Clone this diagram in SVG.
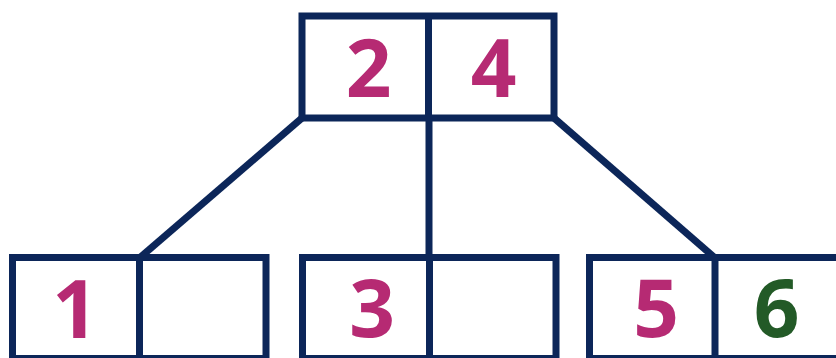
<svg xmlns="http://www.w3.org/2000/svg" width="836" height="358" viewBox="0 0 836 358">
<style>
.box{fill:#fff;stroke:#0c2659;stroke-width:7}
.ln{stroke:#0c2659;stroke-width:7;fill:none}
.t{font-family:"Open Sans","Liberation Sans",sans-serif;font-weight:700;font-size:80px;text-anchor:middle}
.m{fill:#b62a73}
.g{fill:#235a27}
</style>
<rect width="836" height="358" fill="#fff"/>
<g id="connectors">
<line class="ln" x1="302" y1="118" x2="139.5" y2="258"/>
<line class="ln" x1="429" y1="118" x2="429" y2="258"/>
<line class="ln" x1="554" y1="118" x2="715" y2="258"/>
</g>
<g id="root">
<rect class="box" x="302" y="16" width="252" height="102"/>
<line class="ln" x1="428.5" y1="16" x2="428.5" y2="118"/>
<text class="t m" x="368.5" y="97">2</text>
<text class="t m" x="493.5" y="97">4</text>
</g>
<g id="left">
<rect class="box" x="12.5" y="257.5" width="253.5" height="101"/>
<line class="ln" x1="139.5" y1="257.5" x2="139.5" y2="358.5"/>
<text class="t m" x="75" y="338">1</text>
</g>
<g id="middle">
<rect class="box" x="302.5" y="257.5" width="253.5" height="101"/>
<line class="ln" x1="429.5" y1="257.5" x2="429.5" y2="358.5"/>
<text class="t m" x="372" y="337">3</text>
</g>
<g id="right">
<rect class="box" x="589.5" y="257.5" width="260" height="101"/>
<line class="ln" x1="715" y1="257.5" x2="715" y2="358.5"/>
<text class="t m" x="656" y="337">5</text>
<text class="t g" x="776.5" y="337">6</text>
</g>
</svg>
